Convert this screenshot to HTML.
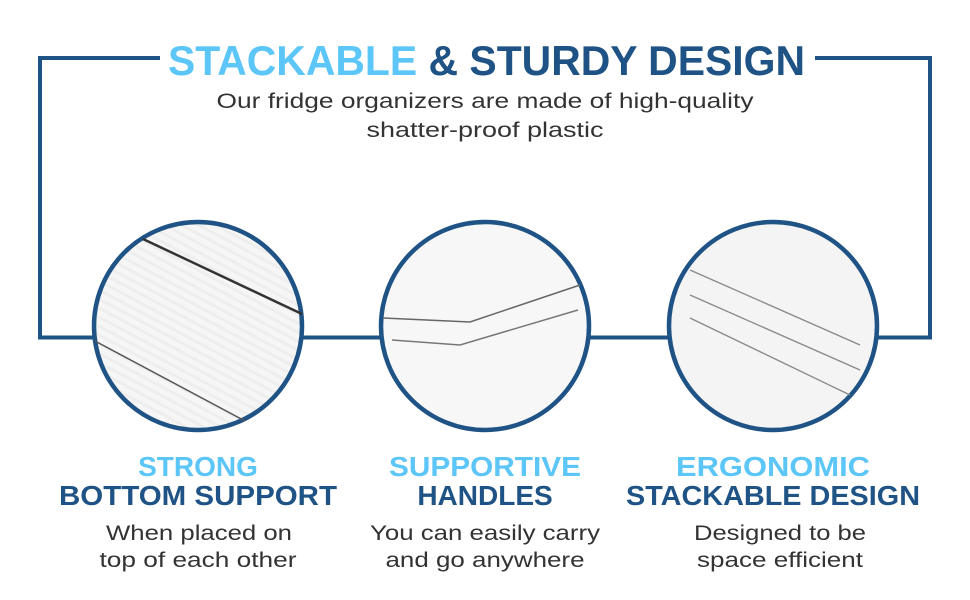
<!DOCTYPE html>
<html><head><meta charset="utf-8"><style>html,body{margin:0;padding:0;background:#fff}svg{display:block}</style></head>
<body>
<svg width="970" height="600" viewBox="0 0 970 600" xmlns="http://www.w3.org/2000/svg" font-family="Liberation Sans, sans-serif">
<defs>
<radialGradient id="sh" cx="0.5" cy="0" r="0.6"><stop offset="0" stop-color="#bbb"/><stop offset="1" stop-color="#fff" stop-opacity="0"/></radialGradient>
<pattern id="st" width="8" height="8" patternUnits="userSpaceOnUse" patternTransform="rotate(28)"><rect width="8" height="8" fill="#f6f6f6"/><rect width="8" height="3" fill="#eeeeee"/></pattern>
</defs>
<ellipse cx="485" cy="-10" rx="120" ry="25" fill="url(#sh)"/>
<path d="M160 58 H40 V337.5 H930 V58 H815" fill="none" stroke="#1f5385" stroke-width="4"/>
<text x="168" y="75" font-size="42" font-weight="bold" textLength="637" lengthAdjust="spacingAndGlyphs"><tspan fill="#5cc6f8">STACKABLE</tspan><tspan fill="#1f5385"> &amp; STURDY DESIGN</tspan></text>
<g font-size="21" fill="#333" text-anchor="middle">
<text x="485" y="108" textLength="537" lengthAdjust="spacingAndGlyphs">Our fridge organizers are made of high-quality</text>
<text x="485" y="137" textLength="237" lengthAdjust="spacingAndGlyphs">shatter-proof plastic</text>
</g>
<g stroke="#1f5385" stroke-width="4.5">
<circle cx="198" cy="326" r="104" fill="url(#st)"/>
<circle cx="485" cy="326" r="104" fill="#f7f7f7"/>
<circle cx="773" cy="326" r="104" fill="#f4f4f4"/>
</g>
<g fill="none" stroke="#333">
<path d="M143 239 L302 314" stroke-width="2.5"/>
<path d="M95 341 L245 421" stroke-width="1.5" stroke="#555"/>
<path d="M383 318 L470 322 L580 285" stroke-width="1.5" stroke="#666"/>
<path d="M392 340 L460 345 L578 310" stroke-width="1.5" stroke="#777"/>
<path d="M690 270 L860 345 M690 295 L860 370 M690 318 L850 395" stroke-width="1.3" stroke="#888"/>
</g>
<g font-weight="bold" font-size="28" text-anchor="middle">
<text x="198" y="476" fill="#5cc6f8">STRONG</text>
<text x="198" y="505" fill="#1f5385" textLength="278" lengthAdjust="spacingAndGlyphs">BOTTOM SUPPORT</text>
<text x="485" y="476" fill="#5cc6f8" textLength="192" lengthAdjust="spacingAndGlyphs">SUPPORTIVE</text>
<text x="485" y="505" fill="#1f5385">HANDLES</text>
<text x="773" y="476" fill="#5cc6f8" textLength="194" lengthAdjust="spacingAndGlyphs">ERGONOMIC</text>
<text x="773" y="505" fill="#1f5385" textLength="294" lengthAdjust="spacingAndGlyphs">STACKABLE DESIGN</text>
</g>
<g font-size="21" fill="#333" text-anchor="middle" lengthAdjust="spacingAndGlyphs">
<text x="199" y="540" textLength="186" lengthAdjust="spacingAndGlyphs">When placed on</text>
<text x="198" y="567" textLength="197" lengthAdjust="spacingAndGlyphs">top of each other</text>
<text x="485" y="540" textLength="230" lengthAdjust="spacingAndGlyphs">You can easily carry</text>
<text x="485" y="567" textLength="199" lengthAdjust="spacingAndGlyphs">and go anywhere</text>
<text x="780" y="540" textLength="172" lengthAdjust="spacingAndGlyphs">Designed to be</text>
<text x="780" y="567" textLength="166" lengthAdjust="spacingAndGlyphs">space efficient</text>
</g>
</svg>
</body></html>
